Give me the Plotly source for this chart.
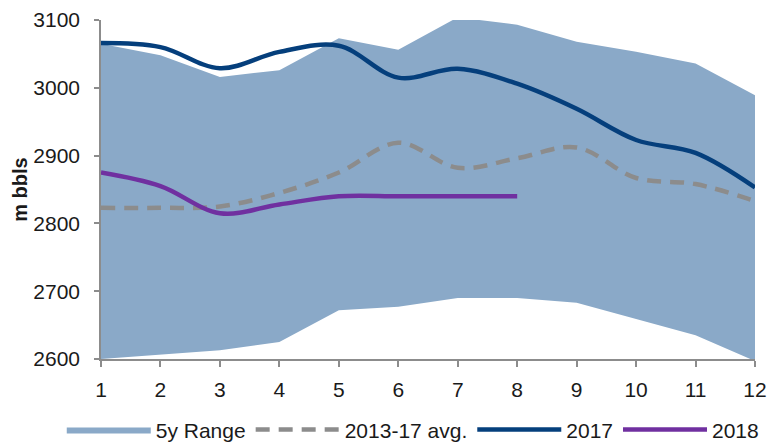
import plotly.graph_objects as go

months = list(range(1, 13))
range_upper = [3065, 3048, 3016, 3026, 3073, 3056, 3104, 3093, 3068, 3053, 3036, 2989]
range_lower = [2600, 2606, 2613, 2625, 2672, 2677, 2690, 2690, 2683, 2659, 2635, 2597]
avg_1317 = [2823, 2823, 2825, 2845, 2875, 2919, 2882, 2896, 2912, 2867, 2858, 2833]
y2017 = [3066, 3060, 3029, 3053, 3062, 3015, 3028, 3006, 2969, 2923, 2904, 2853]
months_2018 = list(range(1, 9))
y2018 = [2875, 2855, 2815, 2828, 2840, 2840, 2840, 2840]

BAND = "#8aa9c8"
NAVY = "#053f7c"
PURPLE = "#7030a0"
GREY = "#8c8c8c"
FONT = "Liberation Sans, Arial, sans-serif"

fig = go.Figure()
fig.add_trace(go.Scatter(x=months, y=range_upper, mode="lines", line=dict(width=0, color=BAND),
                         showlegend=False, hoverinfo="skip"))
fig.add_trace(go.Scatter(x=months, y=range_lower, mode="lines", line=dict(width=0, color=BAND),
                         fill="tonexty", fillcolor=BAND, name="5y Range", legendrank=1001))
fig.add_trace(go.Scatter(x=months, y=avg_1317, mode="lines", name="2013-17 avg.", legendrank=1002,
                         line=dict(color=GREY, width=4.5, dash="14px,9px", shape="spline", smoothing=1)))
fig.add_trace(go.Scatter(x=months_2018, y=y2018, mode="lines", name="2018", legendrank=1004,
                         line=dict(color=PURPLE, width=4.5, shape="spline", smoothing=1)))
fig.add_trace(go.Scatter(x=months, y=y2017, mode="lines", name="2017", legendrank=1003,
                         line=dict(color=NAVY, width=4.5, shape="spline", smoothing=1)))

fig.update_layout(
    width=776, height=437,
    margin=dict(l=93, r=29, t=12, b=86, autoexpand=False),
    paper_bgcolor="white", plot_bgcolor="white",
    font=dict(family=FONT, size=21, color="#1a1a1a"),
    showlegend=True,
    legend=dict(orientation="h", x=-0.06, xanchor="left", y=-0.209, yanchor="middle",
                traceorder="normal", itemwidth=84, font=dict(size=21),
                itemclick=False),
    xaxis=dict(range=[1, 12], tickmode="array", tickvals=months, ticktext=[str(m) for m in months],
               showgrid=False, zeroline=False, showline=True, linecolor="#8c8c8c", linewidth=1.5,
               ticks="outside", ticklen=6, tickcolor="#8c8c8c", tickwidth=1.5,
               ticklabelstandoff=5, automargin=False,
               tickfont=dict(size=21)),
    yaxis=dict(range=[2600, 3100], tickvals=[2600, 2700, 2800, 2900, 3000, 3100],
               showgrid=False, zeroline=False, showline=True, linecolor="#8c8c8c", linewidth=1.5,
               ticks="outside", ticklen=5, tickcolor="#8c8c8c", tickwidth=1.5,
               ticklabelstandoff=10, automargin=False,
               tickfont=dict(size=21),
               title=dict(text="<b>m bbls</b>", font=dict(size=20), standoff=0)),
)

fig.write_html("out.html")
